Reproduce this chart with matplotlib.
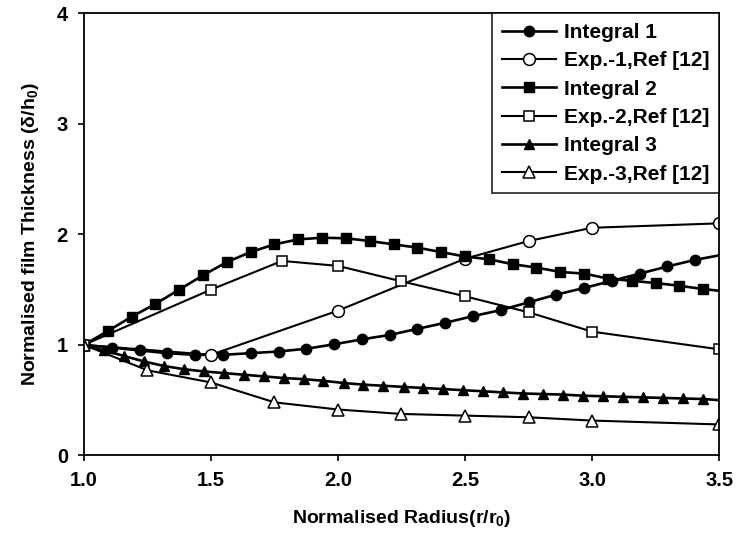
import matplotlib.pyplot as plt

plt.rcParams['font.family'] = ['Liberation Sans', 'DejaVu Sans']
plt.rcParams['font.weight'] = 'bold'
plt.rcParams['axes.labelweight'] = 'bold'
plt.rcParams['mathtext.default'] = 'regular'

# Integral 1 (filled circles)
int1_x = [1.0, 1.109, 1.219, 1.328, 1.438, 1.547, 1.656, 1.766, 1.875, 1.984,
          2.094, 2.203, 2.313, 2.422, 2.531, 2.641, 2.750, 2.859, 2.969, 3.078,
          3.188, 3.297, 3.406, 3.5]
int1_y = [1.0, 0.975, 0.95, 0.925, 0.91, 0.91, 0.925, 0.94, 0.965, 1.005,
          1.05, 1.09, 1.145, 1.20, 1.26, 1.315, 1.385, 1.455, 1.515, 1.58,
          1.645, 1.71, 1.77, 1.81]

# Exp.-1 (open circles)
exp1_x = [1.0, 1.5, 2.0, 2.5, 2.75, 3.0, 3.5]
exp1_y = [1.0, 0.91, 1.31, 1.78, 1.94, 2.06, 2.10]

# Integral 2 (filled squares)
int2_x = [1.0, 1.094, 1.188, 1.281, 1.375, 1.469, 1.563, 1.656, 1.750, 1.844,
          1.938, 2.031, 2.125, 2.219, 2.313, 2.406, 2.500, 2.594, 2.688, 2.781,
          2.875, 2.969, 3.063, 3.156, 3.250, 3.344, 3.438, 3.5]
int2_y = [1.0, 1.125, 1.255, 1.37, 1.50, 1.63, 1.75, 1.84, 1.91, 1.955,
          1.97, 1.965, 1.94, 1.91, 1.88, 1.84, 1.80, 1.775, 1.73, 1.70,
          1.66, 1.645, 1.60, 1.58, 1.56, 1.535, 1.505, 1.49]

# Exp.-2 (open squares)
exp2_x = [1.0, 1.5, 1.78, 2.0, 2.25, 2.5, 2.75, 3.0, 3.5]
exp2_y = [1.0, 1.50, 1.76, 1.715, 1.575, 1.44, 1.295, 1.12, 0.96]

# Integral 3 (filled triangles)
int3_x = [1.0, 1.079, 1.157, 1.236, 1.314, 1.393, 1.472, 1.550, 1.629, 1.707,
          1.786, 1.865, 1.943, 2.022, 2.100, 2.179, 2.258, 2.336, 2.415, 2.493,
          2.572, 2.651, 2.729, 2.808, 2.886, 2.965, 3.044, 3.122, 3.201, 3.279,
          3.358, 3.437, 3.5]
int3_y = [1.0, 0.95, 0.90, 0.85, 0.81, 0.78, 0.76, 0.745, 0.73, 0.715,
          0.70, 0.69, 0.675, 0.655, 0.64, 0.63, 0.62, 0.61, 0.60, 0.59,
          0.58, 0.57, 0.56, 0.555, 0.55, 0.54, 0.535, 0.53, 0.525, 0.52,
          0.515, 0.51, 0.50]

# Exp.-3 (open triangles)
exp3_x = [1.0, 1.25, 1.5, 1.75, 2.0, 2.25, 2.5, 2.75, 3.0, 3.5]
exp3_y = [1.0, 0.77, 0.66, 0.48, 0.415, 0.375, 0.36, 0.345, 0.315, 0.28]

fig = plt.figure(figsize=(7.36, 5.37), dpi=100)
ax = fig.add_axes([0.114, 0.152, 0.863, 0.823])

# integral curves carry one extra end point at r/r0 = 3.5 with no marker
skip_last = slice(0, -1)
ax.plot(int1_x, int1_y, color='black', lw=1.9, marker='o', ms=7.5,
        mfc='black', markevery=skip_last, label='Integral 1')
ax.plot(exp1_x, exp1_y, color='black', lw=1.5, marker='o', ms=8.5,
        mfc='white', mec='black', mew=1.1, label='Exp.-1,Ref [12]')
ax.plot(int2_x, int2_y, color='black', lw=1.9, marker='s', ms=7,
        mfc='black', markevery=skip_last, label='Integral 2')
ax.plot(exp2_x, exp2_y, color='black', lw=1.5, marker='s', ms=7.5,
        mfc='white', mec='black', mew=1.1, label='Exp.-2,Ref [12]')
ax.plot(int3_x, int3_y, color='black', lw=1.9, marker='^', ms=7.5,
        mfc='black', markevery=skip_last, label='Integral 3')
ax.plot(exp3_x, exp3_y, color='black', lw=1.5, marker='^', ms=8,
        mfc='white', mec='black', mew=1.1, label='Exp.-3,Ref [12]')

ax.set_xlim(1.0, 3.5)
ax.set_ylim(0, 4)
ax.set_xticks([1.0, 1.5, 2.0, 2.5, 3.0, 3.5])
ax.set_xticklabels(['1.0', '1.5', '2.0', '2.5', '3.0', '3.5'])
ax.set_yticks([0, 1, 2, 3, 4])
ax.tick_params(direction='out', length=4.5, width=1.2, labelsize=14.5, pad=7)

for side in ax.spines.values():
    side.set_linewidth(1.3)

ax.set_xlabel('Normalised Radius(r/r$_0$)', fontsize=14, labelpad=13)
ax.set_ylabel('Normalised film Thickness (δ/h$_0$)', fontsize=14, labelpad=11)

leg = ax.legend(loc='upper right', borderaxespad=0.0,
                prop={'size': 15, 'weight': 'bold'},
                frameon=True, fancybox=False, edgecolor='black',
                handlelength=2.6, handletextpad=0.4, labelspacing=0.45,
                borderpad=0.45)
leg.get_frame().set_linewidth(1.3)

fig.savefig('out.png', dpi=100)
